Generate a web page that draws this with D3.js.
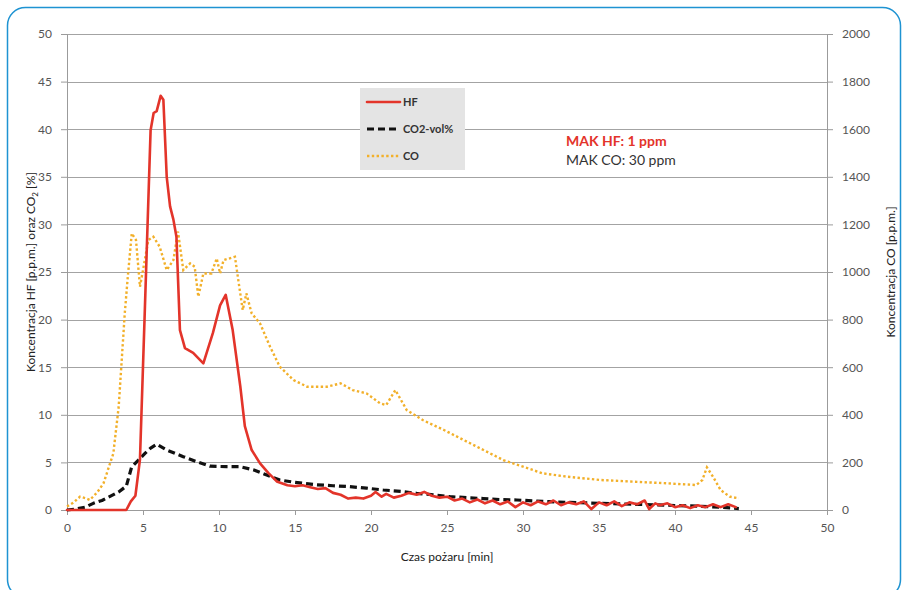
<!DOCTYPE html>
<html>
<head>
<meta charset="utf-8">
<script src="https://cdn.jsdelivr.net/npm/d3@7"></script>
<style>
  body { margin: 0; background: #fff; }
  svg text { font-family: Lato, "Open Sans", sans-serif; }
</style>
</head>
<body>
<script>
const hfTime = [0, 1, 2, 3, 3.9, 4.2, 4.5, 4.8, 5.1, 5.5, 5.7, 5.9, 6.16, 6.34, 6.56, 6.78, 7.0, 7.2, 7.43, 7.76, 8.3, 8.97, 9.6, 10.07, 10.44, 10.9, 11.4, 11.7, 12.15, 12.7, 13.24, 13.8,
  14.5, 15, 15.5, 16, 16.5, 17, 17.5, 18, 18.5, 19, 19.5, 20, 20.3, 20.7, 21, 21.5, 22, 22.5, 23, 23.5, 24, 24.5, 25, 25.5, 26, 26.5, 27, 27.5, 28, 28.5, 29, 29.5,
  30, 30.5, 31, 31.5, 32, 32.5, 33, 33.5, 34, 34.5, 35, 35.5, 36, 36.5, 37, 37.5, 38, 38.3, 38.7, 39, 39.5, 40, 40.5, 41, 41.5, 42, 42.5, 43, 43.5, 44];
const hfValue = [0, 0, 0, 0, 0, 0.9, 1.5, 5.3, 20, 39.9, 41.7, 41.9, 43.5, 43.1, 35.0, 31.9, 30.5, 28.7, 18.9, 17.0, 16.5, 15.4, 18.6, 21.5, 22.6, 18.9, 13.0, 8.8, 6.3, 4.9, 3.9, 3.0,
  2.6, 2.5, 2.6, 2.4, 2.2, 2.3, 1.8, 1.6, 1.2, 1.3, 1.2, 1.5, 1.9, 1.4, 1.7, 1.3, 1.5, 1.8, 1.6, 1.9, 1.5, 1.3, 1.4, 1.0, 1.2, 0.8, 1.1, 0.7, 1.0, 0.6, 0.9, 0.3,
  0.8, 0.5, 0.9, 0.6, 1.0, 0.5, 0.8, 0.6, 0.9, 0.1, 0.8, 0.5, 0.9, 0.4, 0.8, 0.6, 1.0, 0.1, 0.7, 0.5, 0.7, 0.3, 0.5, 0.2, 0.5, 0.3, 0.6, 0.3, 0.6, 0.3];

const co2Time = [0, 0.6, 1.2, 1.73, 2.3, 2.8, 3.4, 3.9, 4.25, 4.7, 5.13, 5.5, 5.9, 6.56, 7.65, 8.5, 9.4, 10.5, 11.4, 12.3, 13.1, 14.0, 15, 16.4, 17.5, 18.6, 19.7, 20.8, 22, 23.0, 24.1,
  25.2, 26.3, 27.4, 28.5, 29.6, 31.3, 33, 35.1, 37.3, 39.5, 41.5, 43, 43.8, 44.2];
const co2Value = [0, 0.1, 0.3, 0.7, 1.0, 1.4, 1.9, 2.5, 4.5, 5.25, 5.95, 6.5, 6.9, 6.3, 5.6, 5.1, 4.6, 4.55, 4.55, 4.2, 3.7, 3.15, 2.9, 2.65, 2.55, 2.45, 2.3, 2.1, 1.95, 1.75, 1.6,
  1.4, 1.3, 1.2, 1.1, 1.05, 0.9, 0.8, 0.7, 0.6, 0.5, 0.4, 0.3, 0.2, 0.15];

const coTime = [0, 0.4, 0.86, 1.2, 1.5, 2.0, 2.4, 3.05, 3.4, 3.6, 3.8, 4.0, 4.26, 4.54, 4.8, 5.0, 5.35, 5.68, 6.1, 6.56, 7.0, 7.3, 7.65, 8.1, 8.4, 8.64, 8.97, 9.5, 9.85, 10.07, 10.3, 11.05,
  11.27, 11.56, 11.8, 12.15, 12.7, 13.36, 14.0, 14.9, 15.8, 17.1, 18.0, 18.8, 19.7, 20.6, 21.0, 21.6, 22.35, 23.4, 24.8, 26.1, 27.4, 28.7, 30.0, 31.3, 32.9, 35.1, 37.3,
  39.5, 41.4, 41.8, 42.1, 42.5, 43.0, 43.6, 44.2];
const coValue = [15, 30, 56, 50, 42, 75, 112, 238, 434, 630, 826, 980, 1162, 1134, 938, 1008, 1134, 1148, 1106, 1008, 1050, 1170, 1008, 1036, 1022, 896, 994, 994, 1057, 994, 1050, 1064,
  966, 840, 910, 826, 784, 686, 602, 546, 518, 518, 532, 504, 490, 448, 441, 504, 420, 378, 336, 294, 252, 210, 182, 154, 140, 126, 119,
  112, 105, 126, 179, 140, 84, 56, 49];

const xTicks = [0, 5, 10, 15, 20, 25, 30, 35, 40, 45, 50];
const yLeftTicks = [0, 5, 10, 15, 20, 25, 30, 35, 40, 45, 50];
const yRightTicks = [0, 200, 400, 600, 800, 1000, 1200, 1400, 1600, 1800, 2000];

const legendNames = ["HF", "CO2-vol%", "CO"];

const W = 903, H = 590;
const margin = {top: 34, right: 76, bottom: 80, left: 67};
const width = W - margin.left - margin.right,
      height = H - margin.top - margin.bottom;

const svg = d3.select("body").append("svg")
    .attr("width", W)
    .attr("height", H);

// blue rounded frame
svg.append("rect")
    .attr("x", 7.5).attr("y", 7.5)
    .attr("width", 893).attr("height", 590)
    .attr("rx", 18)
    .attr("fill", "none")
    .attr("stroke", "#1e93d2")
    .attr("stroke-width", 1.5);

const g = svg.append("g")
    .attr("transform", "translate(" + margin.left + "," + margin.top + ")");

const x = d3.scaleLinear().domain([0, 50]).range([0, width]);
const yL = d3.scaleLinear().domain([0, 50]).range([height, 0]);
const yR = d3.scaleLinear().domain([0, 2000]).range([height, 0]);

const tickColor = "#9b9b9b", labelColor = "#555";

// horizontal grid
g.append("g")
    .selectAll("line")
    .data(yLeftTicks)
    .enter().append("line")
    .attr("x1", 0).attr("x2", width)
    .attr("y1", d => Math.round(yL(d)) + 0.5)
    .attr("y2", d => Math.round(yL(d)) + 0.5)
    .attr("stroke", "#a3a3a3")
    .attr("stroke-width", 1);

function styleAxis(sel) {
  sel.select(".domain").attr("stroke", tickColor);
  sel.selectAll(".tick line").attr("stroke", tickColor);
  sel.selectAll(".tick text")
      .attr("fill", labelColor)
      .style("font-size", "12px");
}

g.append("g")
    .attr("transform", "translate(0," + height + ")")
    .call(d3.axisBottom(x).tickValues(xTicks).tickSizeOuter(0).tickSize(5).tickPadding(8))
    .call(styleAxis);

g.append("g")
    .call(d3.axisLeft(yL).tickValues(yLeftTicks).tickSizeOuter(0).tickSize(6).tickPadding(9))
    .call(styleAxis);

g.append("g")
    .attr("transform", "translate(" + width + ",0)")
    .call(d3.axisRight(yR).tickValues(yRightTicks).tickFormat(d3.format("d"))
      .tickSizeOuter(0).tickSize(6).tickPadding(9))
    .call(styleAxis);

// series
const lineL = d3.line().x(d => x(d[0])).y(d => yL(d[1]));
const lineR = d3.line().x(d => x(d[0])).y(d => yR(d[1]));

const coData = d3.zip(coTime, coValue);
const co2Data = d3.zip(co2Time, co2Value);
const hfData = d3.zip(hfTime, hfValue);

const styles = [
  {color: "#e3342a", width: 2.6, dash: null, cap: "round"},
  {color: "#111", width: 3.2, dash: "7,4", cap: "butt"},
  {color: "#f2b02a", width: 2.4, dash: "2.4,2.4", cap: "butt"}
];

g.append("path").datum(coData)
    .attr("d", lineR)
    .attr("fill", "none")
    .attr("stroke", styles[2].color)
    .attr("stroke-width", styles[2].width)
    .attr("stroke-dasharray", styles[2].dash)
    .attr("stroke-linecap", styles[2].cap);

g.append("path").datum(co2Data)
    .attr("d", lineL)
    .attr("fill", "none")
    .attr("stroke", styles[1].color)
    .attr("stroke-width", styles[1].width)
    .attr("stroke-dasharray", styles[1].dash)
    .attr("stroke-linejoin", "round");

g.append("path").datum(hfData)
    .attr("d", lineL)
    .attr("fill", "none")
    .attr("stroke", styles[0].color)
    .attr("stroke-width", styles[0].width)
    .attr("stroke-linejoin", "round")
    .attr("stroke-linecap", "round");

// legend
const lg = svg.append("g").attr("transform", "translate(360,88)");
lg.append("rect")
    .attr("width", 105).attr("height", 82)
    .attr("fill", "#e4e4e4");
legendNames.forEach((name, i) => {
  const s = styles[i];
  const yy = 14 + i * 27;
  lg.append("line")
      .attr("x1", 7).attr("x2", 40)
      .attr("y1", yy).attr("y2", yy)
      .attr("stroke", s.color)
      .attr("stroke-width", s.width)
      .attr("stroke-dasharray", s.dash)
      .attr("stroke-linecap", s.cap);
  lg.append("text")
      .attr("x", 43).attr("y", yy + 4)
      .attr("fill", "#333")
      .style("font-size", "11px")
      .style("font-weight", "bold")
      .text(name);
});

// annotation
svg.append("text")
    .attr("x", 566).attr("y", 146)
    .attr("fill", "#e3342a")
    .style("font-size", "14px")
    .style("font-weight", "bold")
    .text("MAK HF: 1 ppm");
svg.append("text")
    .attr("x", 566).attr("y", 165)
    .attr("fill", "#333")
    .style("font-size", "14px")
    .text("MAK CO: 30 ppm");

// axis titles
svg.append("text")
    .attr("transform", "translate(" + (margin.left + width / 2) + ",561)")
    .attr("text-anchor", "middle")
    .attr("fill", "#222")
    .style("font-size", "12px")
    .text("Czas pożaru [min]");

const lt = svg.append("text")
    .attr("transform", "translate(35," + (margin.top + height / 2) + ") rotate(-90)")
    .attr("text-anchor", "middle")
    .attr("fill", "#222")
    .style("font-size", "12px");
lt.append("tspan").text("Koncentracja HF [p.p.m.] oraz CO");
lt.append("tspan").attr("dy", 3).style("font-size", "8px").text("2");
lt.append("tspan").attr("dy", -3).text(" [%]");

svg.append("text")
    .attr("transform", "translate(895," + (margin.top + height / 2) + ") rotate(-90)")
    .attr("text-anchor", "middle")
    .attr("fill", "#222")
    .style("font-size", "12px")
    .text("Koncentracja CO [p.p.m.]");
</script>
</body>
</html>
